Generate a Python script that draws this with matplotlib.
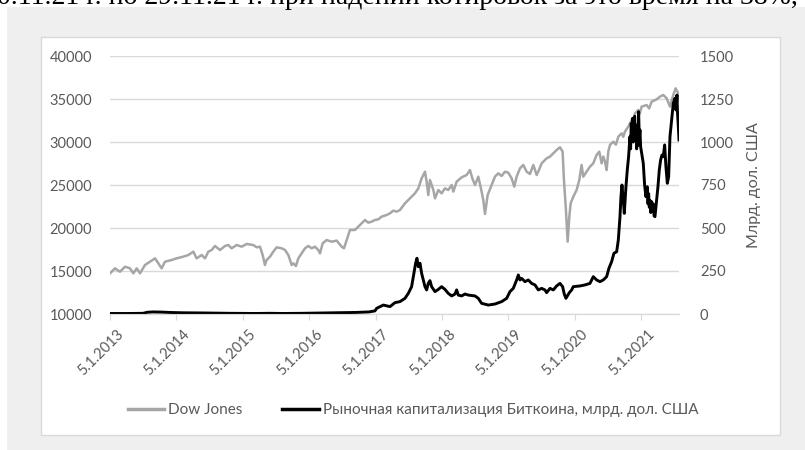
#!/usr/bin/env python

#===========================================================================
#
# Dow Jones vs Bitcoin market capitalisation
#
#===========================================================================

import numpy as np
import matplotlib
matplotlib.use("Agg")
import matplotlib.pyplot as plt
from matplotlib.patches import Rectangle
from matplotlib.lines import Line2D
import matplotlib.transforms as mtransforms

# tick labels on the time axis (one per year)

tickLabels = ["5.1.2013", "5.1.2014", "5.1.2015", "5.1.2016", "5.1.2017",
              "5.1.2018", "5.1.2019", "5.1.2020", "5.1.2021"]

# Dow Jones - time in axis units (years from first tick), index value

dowT = [0.000, 0.075, 0.150, 0.226, 0.301, 0.352, 0.402, 0.452, 0.527, 0.602,
        0.678, 0.728, 0.778, 0.828, 0.929, 1.004, 1.105, 1.180, 1.255, 1.305,
        1.381, 1.431, 1.481, 1.531, 1.581, 1.657, 1.732, 1.782, 1.832, 1.908,
        1.983, 2.058, 2.159, 2.209, 2.259, 2.299, 2.334, 2.359, 2.410, 2.460,
        2.510, 2.585, 2.636, 2.686, 2.711, 2.736, 2.761, 2.801, 2.836, 2.887,
        2.937, 2.987, 3.037, 3.087, 3.137, 3.163, 3.203, 3.263, 3.338, 3.414,
        3.489, 3.524, 3.564, 3.614, 3.690, 3.740, 3.790, 3.840, 3.890, 3.941,
        3.991, 4.041, 4.091, 4.167, 4.217, 4.267, 4.317, 4.367, 4.443, 4.518,
        4.593, 4.644, 4.694, 4.744, 4.769, 4.794, 4.819, 4.870, 4.895, 4.945,
        4.995, 5.045, 5.095, 5.146, 5.171, 5.221, 5.296, 5.371, 5.422, 5.457,
        5.497, 5.547, 5.587, 5.622, 5.648, 5.688, 5.748, 5.798, 5.848, 5.899,
        5.949, 5.999, 6.049, 6.089, 6.125, 6.175, 6.225, 6.275, 6.325, 6.376,
        6.426, 6.461, 6.501, 6.576, 6.627, 6.677, 6.727, 6.777, 6.817, 6.837,
        6.867, 6.893, 6.918, 6.938, 6.978, 7.028, 7.068, 7.103, 7.128, 7.179,
        7.229, 7.279, 7.329, 7.369, 7.405, 7.430, 7.455, 7.480, 7.505, 7.530,
        7.580, 7.620, 7.656, 7.706, 7.730, 7.756, 7.806, 7.856, 7.880, 7.907,
        7.957, 7.980, 8.007, 8.082, 8.120, 8.158, 8.233, 8.283, 8.333, 8.384,
        8.434, 8.484, 8.519, 8.559, 8.570]

dowVal = [14730, 15310, 14920, 15500, 15310, 14730, 15310, 14730, 15700, 16080,
          16470, 15890, 15310, 16080, 16280, 16470, 16670, 16860, 17250, 16470,
          16860, 16470, 17250, 17440, 17910, 17440, 17910, 18020, 17640, 18020,
          17830, 18140, 18020, 17750, 17830, 16860, 15700, 16280, 16670, 17250,
          17750, 17640, 17440, 16860, 16280, 15700, 15890, 15580, 16470, 17050,
          17640, 17910, 17640, 17830, 17440, 17050, 18220, 18600, 18410, 18530,
          17830, 17640, 18600, 19770, 19770, 20160, 20540, 20930, 20620, 20740,
          20930, 21010, 21320, 21510, 21710, 22020, 21900, 22090, 22870, 23450,
          24030, 24610, 25780, 26550, 25390, 23840, 25580, 24420, 23450, 24420,
          24030, 24610, 24420, 25000, 24230, 25390, 25890, 26160, 26740, 25780,
          25000, 25970, 24610, 23260, 21630, 23840, 25000, 25970, 26360, 26050,
          26550, 26430, 25780, 24810, 25970, 26940, 27330, 26550, 26280, 27330,
          26160, 26740, 27520, 28100, 28300, 28680, 29070, 29380, 28880, 25580,
          22090, 18410, 21320, 22870, 23640, 24420, 25580, 27330, 25970, 26550,
          27130, 27520, 28490, 28880, 27520, 28300, 27710, 26740, 28880, 29650,
          30040, 29700, 30620, 31010, 30600, 31200, 31780, 32560, 32200, 33330,
          33720, 33300, 34110, 34300, 33900, 34690, 34960, 35270, 35470, 35080,
          34110, 35470, 36240, 35660, 34800]

# Bitcoin market cap - time in axis units, billions USD

btcT = [0.00, 0.30, 0.50, 0.56, 0.65, 0.78, 0.90, 1.10, 1.40, 1.80,
        2.20, 2.40, 2.60, 2.90, 3.20, 3.50, 3.70, 3.90, 3.99, 4.016,
        4.116, 4.217, 4.292, 4.367, 4.443, 4.493, 4.543, 4.568, 4.603, 4.623,
        4.644, 4.669, 4.694, 4.719, 4.744, 4.769, 4.794, 4.819, 4.844, 4.895,
        4.945, 4.995, 5.045, 5.095, 5.146, 5.196, 5.221, 5.246, 5.296, 5.346,
        5.397, 5.497, 5.547, 5.597, 5.698, 5.798, 5.899, 5.974, 6.024, 6.074,
        6.125, 6.150, 6.175, 6.200, 6.250, 6.300, 6.350, 6.401, 6.451, 6.501,
        6.551, 6.576, 6.627, 6.677, 6.727, 6.777, 6.817, 6.842, 6.867, 6.918,
        6.953, 6.978, 7.078, 7.154, 7.229, 7.279, 7.329, 7.380, 7.430, 7.480,
        7.515, 7.555, 7.590, 7.631, 7.656, 7.681, 7.696, 7.711, 7.731, 7.746,
        7.771, 7.791, 7.811, 7.831, 7.841, 7.851, 7.861, 7.871, 7.882, 7.892,
        7.902, 7.912, 7.922, 7.932, 7.942, 7.952, 7.962, 7.972, 7.982, 7.992,
        8.012, 8.032, 8.052, 8.072, 8.092, 8.103, 8.113, 8.123, 8.133, 8.145,
        8.158, 8.170, 8.183, 8.195, 8.208, 8.233, 8.253, 8.273, 8.293, 8.313,
        8.333, 8.354, 8.373, 8.394, 8.414, 8.434, 8.459, 8.484, 8.509, 8.524,
        8.539, 8.548, 8.560, 8.570]

btcVal = [3, 3, 4, 10, 12, 11, 9, 7, 6, 4,
          3, 4, 3, 4, 6, 8, 9, 12, 18, 33,
          52, 43, 66, 72, 91, 120, 159, 217, 295, 324,
          275, 295, 236, 198, 159, 140, 178, 194, 159, 130,
          143, 159, 143, 120, 105, 116, 140, 110, 105, 116,
          110, 105, 91, 62, 52, 58, 72, 91, 130, 149,
          198, 227, 198, 207, 188, 198, 178, 169, 140, 149,
          140, 124, 149, 140, 163, 178, 159, 116, 91, 124,
          140, 159, 163, 169, 178, 217, 198, 188, 198, 217,
          266, 304, 353, 362, 430, 566, 682, 750, 663, 585,
          740, 837, 915, 1031, 960, 1109, 1020, 1138, 1000, 1031,
          1150, 1040, 1099, 960, 1070, 980, 1176, 1020, 1070, 973,
          924, 876, 750, 682, 740, 640, 700, 620, 660, 590,
          653, 600, 640, 570, 566, 663, 740, 837, 895, 924,
          915, 983, 857, 760, 798, 1031, 1128, 1225, 1254, 1186,
          1273, 1167, 1089, 1012]

topText = "0.11.21 г. по 29.11.21 г. при падении котировок за это время на 38%,"

labelColor = "#595959"
gridColor = "#d9d9d9"
dowColor = "#a6a6a6"
fontName = ["Lato", "Open Sans", "DejaVu Sans"]

def main():

    fig = plt.figure(figsize=(8.05, 4.5), dpi=100)
    fig.patch.set_facecolor("white")

    # grey page background and white chart box

    fig.patches.append(Rectangle((7 / 805, 0), 1.0, 1 - 7 / 450,
                                 transform=fig.transFigure,
                                 facecolor="#efefef", edgecolor="none",
                                 zorder=-10))
    fig.patches.append(Rectangle((41 / 805, 1 - 435 / 450), 739 / 805, 398 / 450,
                                 transform=fig.transFigure,
                                 facecolor="white", edgecolor=gridColor,
                                 linewidth=1, zorder=-9))

    # clipped line of text above the chart

    fig.text(-0.004, 1 - 4 / 450, topText, fontsize=20,
             family="Liberation Serif", va="baseline", ha="left")

    ax1 = fig.add_axes([110 / 805, 1 - 314 / 450, 569 / 805, 258 / 450])
    ax2 = ax1.twinx()

    ax1.set_xlim(0, 8.57)
    ax1.set_ylim(10000, 40000)
    ax2.set_ylim(0, 1500)

    ax1.plot(dowT, dowVal, color=dowColor, linewidth=1.8,
             solid_joinstyle="round")
    ax2.plot(btcT, btcVal, color="black", linewidth=2.1,
             solid_joinstyle="round")

    # axes styling

    ax1.set_yticks(np.arange(10000, 40001, 5000))
    ax2.set_yticks(np.arange(0, 1501, 250))
    ax1.yaxis.grid(True, color=gridColor, linewidth=1)
    ax1.set_axisbelow(True)

    for ax in (ax1, ax2):
        for side in ("left", "right", "top"):
            ax.spines[side].set_visible(False)
        ax.spines["bottom"].set_color(gridColor)
        ax.set_facecolor("none")

    ax1.tick_params(axis="y", length=0, pad=13, labelcolor=labelColor,
                    labelsize=10.5)
    ax2.tick_params(axis="y", length=0, pad=15, labelcolor=labelColor,
                    labelsize=10.5)
    for lab in ax1.get_yticklabels() + ax2.get_yticklabels():
        lab.set_family(fontName)

    ax1.set_xticks(range(len(tickLabels)))
    ax1.set_xticklabels(tickLabels, rotation=45, ha="right", va="top",
                        rotation_mode="anchor", fontsize=10.5,
                        color=labelColor, family=fontName)
    ax1.tick_params(axis="x", length=4, color=gridColor, pad=4)
    offset = mtransforms.ScaledTranslation(6 / 100, -2 / 100, fig.dpi_scale_trans)
    for lab in ax1.get_xticklabels():
        lab.set_transform(lab.get_transform() + offset)

    ax2.set_ylabel("Млрд. дол. США", color=labelColor, fontsize=11.5,
                   family=fontName, rotation=90)
    ax2.yaxis.set_label_coords((747 - 110) / 569, 0.5)

    # legend

    handles = [Line2D([], [], color=dowColor, linewidth=2.5),
               Line2D([], [], color="black", linewidth=2.5)]
    names = ["Dow Jones", "Рыночная капитализация Биткоина, млрд. дол. США"]
    fig.legend(handles, names, loc="center",
               bbox_to_anchor=(413 / 805, 1 - 410 / 450), ncol=2,
               frameon=False, handlelength=2.4, handletextpad=0.25,
               columnspacing=2.6,
               prop={"family": fontName, "size": 11})
    for txt in fig.legends[0].get_texts():
        txt.set_color(labelColor)

    fig.savefig("out.png", dpi=100)

########################################################################
# Run - entry point

if __name__ == "__main__":
    main()
